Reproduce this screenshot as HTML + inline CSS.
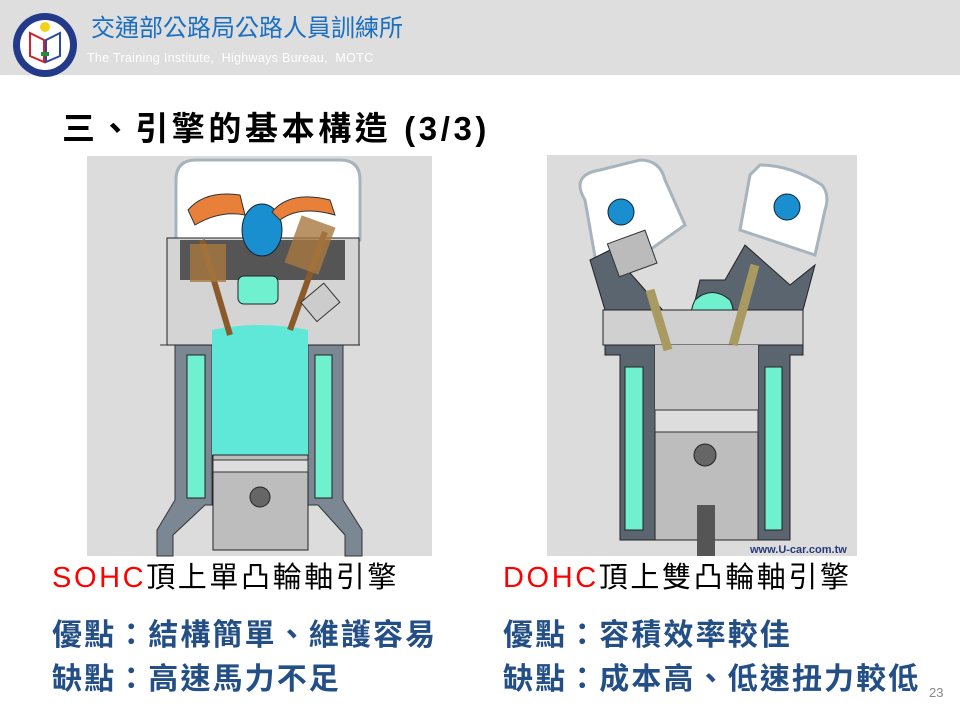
<!DOCTYPE html>
<html><head><meta charset="utf-8"><style>
body{margin:0;width:960px;height:720px;overflow:hidden;background:#fff;position:relative;font-family:"Liberation Sans","Noto Sans CJK TC",sans-serif}
.hdr{position:absolute;left:0;top:0;width:960px;height:75px;background:#dedede}
.t{position:absolute;white-space:nowrap;line-height:1}
</style></head><body>
<div class="hdr"></div>
<svg style="position:absolute;left:0;top:0" width="960" height="720">
<circle cx="45" cy="45" r="32" fill="#233a8a"/>
<circle cx="45" cy="45" r="25" fill="#fff"/>
<circle cx="45" cy="27" r="5" fill="#f2d21a"/>
<path d="M30 33 L44 40 L44 62 L30 56Z" fill="none" stroke="#d0202a" stroke-width="2"/>
<path d="M60 33 L46 40 L46 62 L60 56Z" fill="none" stroke="#2a4aa0" stroke-width="2"/>
<rect x="41" y="52" width="8" height="4" fill="#2a8a3a"/>

<!-- left image -->
<rect x="87" y="156" width="345" height="400" fill="#dcdcdc"/>
<path d="M176 240 L176 180 Q176 160 196 160 L340 160 Q360 160 360 180 L360 240Z" fill="#fff" stroke="#a7b3bd" stroke-width="3"/>
<path d="M160 345 L175 345 L175 500 L157 530 L157 556 L173 556 L173 535 L205 505 L212 505 L212 345 L308 345 L308 505 L318 505 L345 535 L345 556 L362 556 L362 530 L343 500 L343 345 L360 345" fill="#7b8792" stroke="#333" stroke-width="1"/>
<rect x="187" y="355" width="18" height="143" fill="#6ff0cf" stroke="#222"/>
<rect x="315" y="355" width="17" height="143" fill="#6ff0cf" stroke="#222"/>
<rect x="167" y="238" width="192" height="107" fill="#d4d4d4" stroke="#222"/>
<rect x="180" y="240" width="165" height="40" fill="#555"/>
<path d="M212 330 Q260 320 308 330 L308 455 L212 455Z" fill="#5fe8d8"/>
<rect x="238" y="276" width="40" height="28" rx="6" fill="#6ff0cf" stroke="#222"/>
<ellipse cx="262" cy="230" rx="20" ry="26" fill="#1a8fd0" stroke="#123"/>
<path d="M188 210 Q205 190 240 195 L245 215 Q220 210 195 225Z" fill="#e8803a" stroke="#333"/>
<path d="M272 212 Q290 190 330 200 L335 215 Q300 205 280 220Z" fill="#e8803a" stroke="#333"/>
<path d="M202 240 L230 335" stroke="#8a5a2a" stroke-width="6"/>
<path d="M325 232 L290 330" stroke="#8a5a2a" stroke-width="6"/>
<rect x="190" y="244" width="36" height="38" fill="#a87840" opacity=".8"/>
<rect x="292" y="220" width="36" height="50" fill="#a87840" opacity=".8" transform="rotate(20 310 245)"/>
<rect x="305" y="290" width="30" height="25" fill="#ccc" stroke="#333" transform="rotate(-40 320 302)"/>
<rect x="213" y="455" width="95" height="95" fill="#bdbdbd" stroke="#222"/>
<rect x="213" y="460" width="95" height="12" fill="#ddd" stroke="#333"/>
<circle cx="260" cy="497" r="10" fill="#666" stroke="#222"/>
<!-- right image -->
<rect x="547" y="155" width="310" height="401" fill="#dcdcdc"/>
<path d="M585 200 Q570 175 600 170 L640 160 Q660 160 665 180 L685 225 L600 285Z" fill="#fff" stroke="#a7b3bd" stroke-width="3"/>
<path d="M760 165 Q790 165 822 185 Q830 195 825 210 L815 255 L740 230 L750 175Z" fill="#fff" stroke="#a7b3bd" stroke-width="3"/>
<path d="M590 260 L610 250 L680 330 L690 322 L700 280 L725 280 L745 245 L790 285 L815 265 L803 310 L605 310Z" fill="#5a6570" stroke="#222"/>
<circle cx="621" cy="212" r="13" fill="#1a8fd0" stroke="#123"/>
<circle cx="787" cy="207" r="13" fill="#1a8fd0" stroke="#123"/>
<rect x="612" y="236" width="40" height="35" fill="#bbb" stroke="#333" transform="rotate(-20 632 253)"/>
<path d="M700 340 Q685 320 695 300 Q712 285 730 300 Q740 320 720 340Z" fill="#6ff0cf" stroke="#222"/>
<rect x="603" y="310" width="200" height="35" fill="#d0d0d0" stroke="#222"/>
<path d="M605 345 L655 345 L655 540 L620 540 L620 355 L605 355Z" fill="#5a6570" stroke="#222"/>
<path d="M803 345 L758 345 L758 540 L790 540 L790 355 L803 355Z" fill="#5a6570" stroke="#222"/>
<rect x="625" y="367" width="18" height="163" fill="#6ff0cf" stroke="#222"/>
<rect x="765" y="367" width="17" height="163" fill="#6ff0cf" stroke="#222"/>
<rect x="655" y="345" width="103" height="65" fill="#c8c8c8"/>
<path d="M650 290 L668 350" stroke="#a89a60" stroke-width="9"/>
<path d="M755 265 L733 345" stroke="#a89a60" stroke-width="9"/>
<rect x="655" y="410" width="103" height="130" fill="#bdbdbd" stroke="#222"/>
<rect x="655" y="410" width="103" height="22" fill="#ddd" stroke="#333"/>
<circle cx="705" cy="455" r="11" fill="#666" stroke="#222"/>
<rect x="697" y="505" width="18" height="51" fill="#555"/>
<text x="750" y="553" font-family="Liberation Sans" font-size="11" font-weight="bold" fill="#2a3a7a">www.U-car.com.tw</text>
</svg>
<div class="t" style="left:91px;top:17px;font-size:24px;color:#1a6fc0">交通部公路局公路人員訓練所</div>
<div class="t" style="left:87px;top:52px;font-size:12.5px;color:#fff;letter-spacing:0.3px">The Training Institute,&nbsp; Highways Bureau,&nbsp; MOTC</div>
<div class="t" style="left:62px;top:112px;font-size:33px;color:#000;font-weight:bold;letter-spacing:3.6px">三、引擎的基本構造 (3/3)</div>
<div class="t" style="left:52px;top:564px;font-size:29px;color:#000;letter-spacing:2.6px"><span style="color:#f00">SOHC</span>頂上單凸輪軸引擎</div>
<div class="t" style="left:503px;top:564px;font-size:29px;color:#000;letter-spacing:2.6px"><span style="color:#f00">DOHC</span>頂上雙凸輪軸引擎</div>
<div class="t" style="left:52px;top:621px;font-size:30px;color:#234f86;font-weight:bold;letter-spacing:2.1px">優點：結構簡單、維護容易</div>
<div class="t" style="left:52px;top:665px;font-size:30px;color:#234f86;font-weight:bold;letter-spacing:2.1px">缺點：高速馬力不足</div>
<div class="t" style="left:503px;top:621px;font-size:30px;color:#234f86;font-weight:bold;letter-spacing:2.1px">優點：容積效率較佳</div>
<div class="t" style="left:503px;top:665px;font-size:30px;color:#234f86;font-weight:bold;letter-spacing:2.1px">缺點：成本高、低速扭力較低</div>
<div class="t" style="left:929px;top:686px;font-size:13px;color:#888">23</div>
</body></html>
